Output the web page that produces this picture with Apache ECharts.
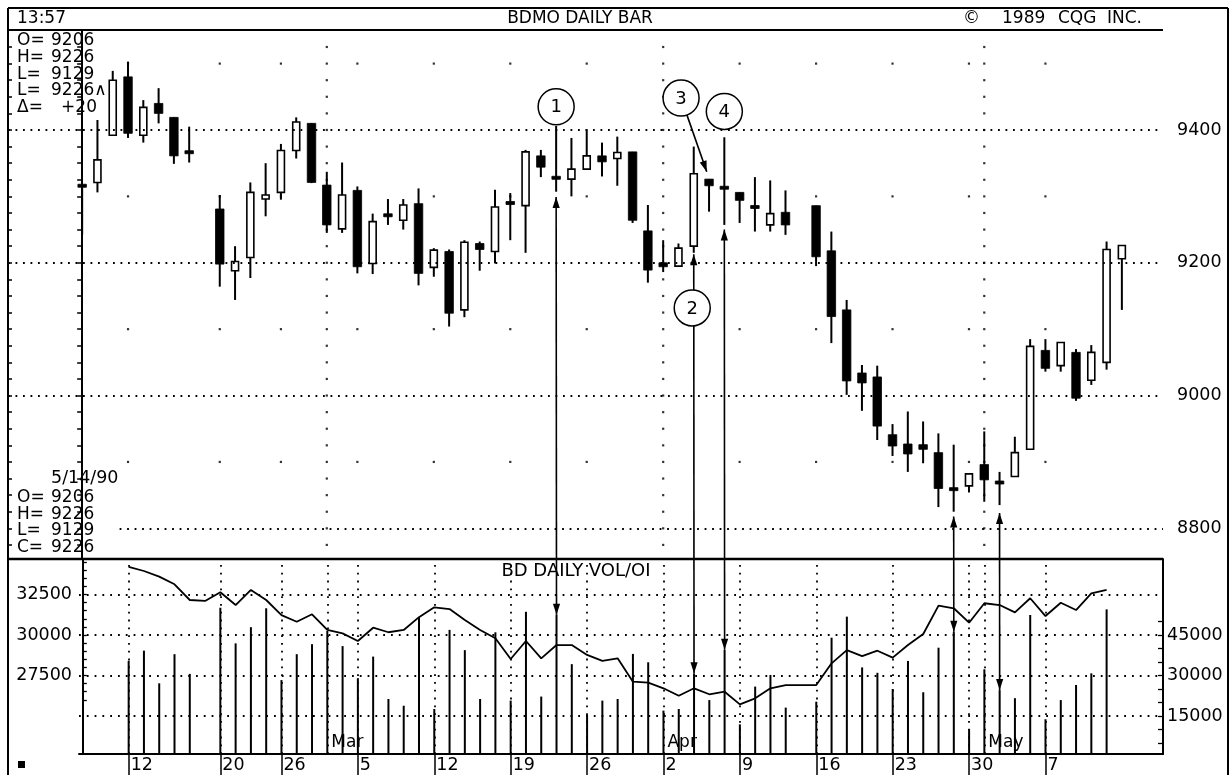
<!DOCTYPE html>
<html>
<head>
<meta charset="utf-8">
<title>BDMO Daily Bar</title>
<script src="https://cdn.jsdelivr.net/npm/echarts@6.0.0/dist/echarts.min.js"></script>
<style>
  html, body { margin: 0; padding: 0; background: #fff; }
  #chart { width: 1232px; height: 775px; }
</style>
</head>
<body>
<div id="chart"></div>
<script>
// BDMO daily bars (Feb - May 1990) with daily volume and open interest.
// One slot per weekday; holidays (2/19, 4/13) keep their slot but have no bar.
const dates = ['2/7','2/8','2/9','2/12','2/13','2/14','2/15','2/16','2/19','2/20','2/21','2/22','2/23',
  '2/26','2/27','2/28','3/1','3/2','3/5','3/6','3/7','3/8','3/9','3/12','3/13','3/14','3/15','3/16',
  '3/19','3/20','3/21','3/22','3/23','3/26','3/27','3/28','3/29','3/30','4/2','4/3','4/4','4/5','4/6',
  '4/9','4/10','4/11','4/12','4/13','4/16','4/17','4/18','4/19','4/20','4/23','4/24','4/25','4/26','4/27',
  '4/30','5/1','5/2','5/3','5/4','5/7','5/8','5/9','5/10','5/11','5/14'];

const opens = [9318,9321,9392,9480,9392,9440,9419,9367,null,9281,9188,9208,9296,
  9306,9369,9410,9317,9251,9309,9199,9272,9264,9289,9193,9217,9129,9229,9217,
  9291,9286,9361,9329,9326,9341,9361,9357,9367,9248,9200,9195,9225,9326,9314,
  9306,9285,9257,9276,null,9286,9218,9129,9034,9028,8941,8927,8926,8914,8860,
  8864,8896,8870,8878,8919,9068,9045,9065,9023,9050,9206];
const highs = [9318,9415,9489,9503,9445,9463,9419,9405,null,9302,9225,9321,9350,
  9379,9419,9410,9337,9351,9315,9274,9296,9296,9312,9222,9220,9234,9232,9310,
  9305,9370,9370,9406,9388,9401,9381,9390,9367,9287,9234,9229,9375,9326,9389,
  9306,9329,9324,9309,null,9286,9247,9144,9046,9045,8957,8976,8961,8943,8926,
  8882,8946,8885,8938,9085,9085,9080,9070,9076,9232,9226];
const lows = [9242,9306,9392,9388,9381,9410,9349,9351,null,9164,9144,9177,9270,
  9295,9357,9320,9245,9245,9184,9183,9257,9250,9166,9179,9104,9118,9188,9199,
  9234,9215,9329,9307,9300,9340,9330,9316,9260,9170,9186,9195,9215,9277,9257,
  9260,9247,9247,9242,null,9195,9079,9001,8977,8933,8909,8885,8898,8832,8825,
  8854,8840,8835,8878,8919,9036,9036,8992,9016,9039,9129];
const closes = [9314,9355,9475,9395,9434,9425,9361,9366,null,9198,9202,9306,9302,
  9369,9412,9321,9257,9302,9194,9262,9271,9287,9184,9219,9124,9231,9220,9284,
  9289,9367,9344,9327,9341,9361,9352,9366,9264,9189,9194,9222,9334,9316,9312,
  9294,9283,9274,9257,null,9209,9119,9022,9019,8954,8924,8912,8919,8860,8858,
  8882,8873,8868,8914,9074,9041,9080,8996,9065,9220,9226];

const volumes = [null,null,null,35400,39200,27100,37900,30600,null,55100,41900,47900,54900,
  28300,37900,41600,46500,40900,29000,37000,21300,18800,51500,17600,46900,39400,21300,46000,
  20700,53600,22200,52500,34200,15400,20700,21300,38000,34900,17000,17600,30800,20900,39500,
  11900,25900,30200,18100,null,20300,44000,51800,33000,31000,25000,35400,23800,40300,46200,
  10100,32300,24600,21600,52400,13800,20900,26500,30800,54500,null];
const openInterest = [null,null,null,34200,33950,33600,33130,32160,32100,32640,31850,32780,32160,
  31230,30820,31280,30310,30100,29630,30450,30170,30310,31100,31710,31600,30930,30310,29800,
  28520,29630,28560,29380,29380,28770,28400,28560,27120,27060,26710,26250,26710,26340,26500,
  25720,26090,26710,26910,26910,26910,28250,29070,28700,29030,28600,29380,30060,31810,31650,
  30760,31960,31850,31400,32270,31170,31990,31540,32570,32780,null];

// axis labels and calendar markers
const priceLabels = [8800, 9000, 9200, 9400];
const oiLabels = [27500, 30000, 32500];
const oiGridLevels = [25000, 27500, 30000, 32500];
const volumeLabels = [15000, 30000, 45000];
const weekStarts = ['2/12','2/20','2/26','3/5','3/12','3/19','3/26','4/2','4/9','4/16','4/23','4/30','5/7'];
const monthStarts = ['3/1','4/2','5/1'];
const monthNames = ['Mar','Apr','May'];

// quote box for the last session
const quoteDate = '5/14/90';
const quoteTime = '13:57';
const netChange = 20;

// numbered call-outs (slot position, price level) and the links from bars to volume
const callouts = [
  { n: '1', at: 31.0, price: 9435 },
  { n: '2', at: 39.9, price: 9132 },
  { n: '3', at: 39.17, price: 9448, pointAt: [40.85, 9337] },
  { n: '4', at: 42.0, price: 9428 }
];
const links = [
  { date: '3/22', tip: 9299 },
  { date: '4/4', tip: 9213 },
  { date: '4/6', tip: 9250 },
  { date: '4/27', tip: 8818 },
  { date: '5/2', tip: 8823 }
];

const FONT = 'DejaVu Sans';
const INK = '#000';
const idxOf = d => dates.indexOf(d);
const last = dates.length - 1;

// axis ranges (slot units horizontally)
const XMIN0 = -4.85, XMIN1 = -0.25, XMAX = 70.69;
const PMIN = 8753.8, PMAX = 9550.6;
const OIMIN = 22654, OIMAX = 34691;
const VMIN = 926, VMAX = 73148;

const candleData = [];
dates.forEach((d, i) => {
  if (opens[i] != null) candleData.push([i, opens[i], closes[i], lows[i], highs[i]]);
});
const volData = [];
volumes.forEach((v, i) => { if (v != null) volData.push([i, v]); });
const oiData = [];
openInterest.forEach((v, i) => { if (v != null) oiData.push([i, v]); });

const weekIdx = weekStarts.map(idxOf);
const monthIdx = monthStarts.map(idxOf);

const minorPrice = [];
for (let p = 8775; p <= 9525; p += 25) minorPrice.push(p);
const minorOI = [];
for (let v = 26000; v <= 34500; v += 500) minorOI.push(v);
const minorVol = [];
for (let v = 5000; v <= 50000; v += 5000) minorVol.push(v);

// dotted month lines and sparse weekly dots in the price panel
const gridDots = [];
monthIdx.forEach(i => minorPrice.forEach(p => gridDots.push([i, p])));
weekIdx.forEach(i => {
  if (!monthIdx.includes(i)) [8900, 9100, 9300, 9500].forEach(p => gridDots.push([i, p]));
});

const priceLines = priceLabels.map(p => [
  { coord: [p === 8800 ? 2.45 : XMIN0, p] },
  { coord: [XMAX, p] }
]);
const volVerticals = Array.from(new Set(weekIdx.concat(monthIdx))).sort((a, b) => a - b);

const chart = echarts.init(document.getElementById('chart'), null, { renderer: 'canvas', width: 1232, height: 775 });

const plain = v => String(Math.round(v));
const labelBase = { color: INK, fontFamily: FONT, fontSize: 17.5, formatter: plain };

const option = {
  animation: false,
  backgroundColor: '#fff',
  grid: [
    { left: 8, top: 30, width: 1155, height: 529, outerBoundsMode: 'none', containLabel: false },
    { left: 79, top: 559, width: 1084, height: 195, outerBoundsMode: 'none', containLabel: false }
  ],
  xAxis: [
    { gridIndex: 0, type: 'value', min: XMIN0, max: XMAX, show: false },
    {
      gridIndex: 1, type: 'value', min: XMIN1, max: XMAX,
      axisLine: { show: true, lineStyle: { color: INK, width: 2 } },
      axisTick: { show: true, inside: false, length: 21, customValues: weekIdx, lineStyle: { color: INK, width: 1.5 } },
      axisLabel: Object.assign({}, labelBase, {
        customValues: weekIdx, align: 'left', verticalAlign: 'middle', margin: 11, padding: [0, 0, 0, 2],
        formatter: v => dates[Math.round(v)].split('/')[1]
      }),
      splitLine: { show: false }
    }
  ],
  yAxis: [
    {
      gridIndex: 0, type: 'value', position: 'right', min: PMIN, max: PMAX,
      axisLine: { show: true, lineStyle: { color: INK, width: 2 } },
      axisTick: { show: true, inside: true, length: 5, customValues: minorPrice, lineStyle: { color: INK, width: 1.5 } },
      axisLabel: Object.assign({}, labelBase, { customValues: priceLabels, margin: 14 }),
      splitLine: { show: false }
    },
    {
      gridIndex: 0, type: 'value', position: 'left', min: PMIN, max: PMAX,
      axisLine: { show: true, lineStyle: { color: INK, width: 2 } },
      axisTick: { show: true, inside: true, length: 4, customValues: minorPrice, lineStyle: { color: INK, width: 1.5 } },
      axisLabel: { show: false },
      splitLine: { show: false }
    },
    {
      gridIndex: 1, type: 'value', position: 'left', min: OIMIN, max: OIMAX,
      axisLine: { show: true, lineStyle: { color: INK, width: 2 } },
      axisTick: { show: true, inside: true, length: 4, customValues: minorOI, lineStyle: { color: INK, width: 1.3 } },
      axisLabel: Object.assign({}, labelBase, { customValues: oiLabels, margin: 7 }),
      splitLine: { show: false }
    },
    {
      gridIndex: 1, type: 'value', position: 'right', min: VMIN, max: VMAX,
      axisLine: { show: true, lineStyle: { color: INK, width: 2 } },
      axisTick: { show: true, inside: true, length: 5, customValues: minorVol, lineStyle: { color: INK, width: 1.3 } },
      axisLabel: Object.assign({}, labelBase, { customValues: volumeLabels, margin: 4 }),
      splitLine: { show: false }
    }
  ],
  series: [
    {
      // price grid: dotted month lines, weekly dots, dotted price levels
      type: 'scatter', xAxisIndex: 0, yAxisIndex: 0, silent: true, z: 1,
      symbol: 'rect', symbolSize: 2.2, itemStyle: { color: INK },
      data: gridDots,
      markLine: {
        silent: true, symbol: 'none', label: { show: false }, animation: false,
        lineStyle: { color: INK, width: 1.8, type: [1.8, 5.7] },
        emphasis: { disabled: true },
        data: priceLines
      }
    },
    {
      name: 'BDMO', type: 'custom', xAxisIndex: 0, yAxisIndex: 0, z: 3,
      data: candleData,
      encode: { x: 0, y: [1, 2, 3, 4] },
      renderItem: function (params, api) {
        const i = api.value(0), o = api.value(1), c = api.value(2), l = api.value(3), h = api.value(4);
        const pO = api.coord([i, o]), pC = api.coord([i, c]);
        const pL = api.coord([i, l]), pH = api.coord([i, h]);
        const up = c > o;
        let top = Math.min(pO[1], pC[1]), bot = Math.max(pO[1], pC[1]);
        if (bot - top < 3) { const m = (top + bot) / 2; top = m - 1.5; bot = m + 1.5; }
        const bw = up ? 7 : 8.5;
        return {
          type: 'group',
          children: [
            { type: 'line', shape: { x1: pH[0], y1: pH[1], x2: pL[0], y2: pL[1] },
              style: { stroke: INK, lineWidth: 2 } },
            { type: 'rect', shape: { x: pO[0] - bw / 2, y: top, width: bw, height: bot - top },
              style: up ? { fill: '#fff', stroke: INK, lineWidth: 1.6 } : { fill: INK, stroke: INK, lineWidth: 0.8 } }
          ]
        };
      }
    },
    {
      name: 'Volume', type: 'custom', xAxisIndex: 1, yAxisIndex: 3, z: 3,
      data: volData,
      encode: { x: 0, y: 1 },
      renderItem: function (params, api) {
        const i = api.value(0), v = api.value(1);
        const t = api.coord([i, v]), b = api.coord([i, VMIN]);
        return { type: 'line', shape: { x1: t[0], y1: t[1], x2: b[0], y2: b[1] },
          style: { stroke: INK, lineWidth: 2 } };
      }
    },
    {
      name: 'Open interest', type: 'line', xAxisIndex: 1, yAxisIndex: 2, z: 4,
      data: oiData, showSymbol: false, symbol: 'none', silent: true,
      lineStyle: { color: INK, width: 1.8 },
      markLine: {
        silent: true, symbol: 'none', label: { show: false }, animation: false,
        lineStyle: { color: INK, width: 1.8, type: [1.8, 6] },
        emphasis: { disabled: true },
        data: oiGridLevels.map(v => ({ yAxis: v })).concat(volVerticals.map(i => ({ xAxis: i })))
      }
    }
  ]
};

chart.setOption(option);

// frames, text blocks and call-outs
const P = { xAxisIndex: 0, yAxisIndex: 0 };
const V = { xAxisIndex: 1, yAxisIndex: 3 };
const els = [];

function line(x1, y1, x2, y2, w) {
  return { type: 'line', z: 100, silent: true, shape: { x1, y1, x2, y2 }, style: { stroke: INK, lineWidth: w || 2 } };
}
function text(str, x, y, size, align) {
  return {
    type: 'text', z: 101, silent: true, x, y,
    style: {
      text: str, fill: INK, font: size + 'px "' + FONT + '"', fontSize: size, fontFamily: FONT,
      align: align || 'left', verticalAlign: 'middle',
      textAlign: align || 'left', textVerticalAlign: 'middle'
    }
  };
}
function arrowHead(tip, dir) {
  const L = 11, W = 3.6;
  const nx = -dir[1], ny = dir[0];
  const bx = tip[0] - dir[0] * L, by = tip[1] - dir[1] * L;
  return { type: 'polygon', z: 102, silent: true,
    shape: { points: [[tip[0], tip[1]], [bx + nx * W, by + ny * W], [bx - nx * W, by - ny * W]] },
    style: { fill: INK } };
}

// outer frame and panel separators
els.push(line(8, 8, 1228, 8, 2));
els.push(line(8, 8, 8, 775, 2));
els.push(line(1228, 8, 1228, 775, 2));
els.push(line(8, 30, 1163, 30, 2));
els.push(line(8, 559, 1163, 559, 2.5));
els.push({ type: 'rect', z: 100, silent: true, shape: { x: 18, y: 761, width: 7, height: 7 }, style: { fill: INK } });

// header
els.push(text(quoteTime, 17, 19, 17));
els.push(text('BDMO DAILY BAR', 580, 19, 17, 'center'));
els.push(text('\u00A9', 963, 19, 17));
els.push(text('1989', 1002, 19, 17));
els.push(text('CQG', 1058, 19, 17));
els.push(text('INC.', 1107, 19, 17));

// quote box, top left
const topRows = [
  ['O=', String(opens[last])],
  ['H=', String(highs[last])],
  ['L=', String(lows[last])],
  ['L=', closes[last] + '\u2227'],
  ['\u0394=', '+' + netChange]
];
topRows.forEach((r, k) => {
  const y = 40.5 + k * 16.8;
  els.push(text(r[0], 17, y, 17));
  if (k === 4) els.push(text(r[1], 97, y, 17, 'right'));
  else els.push(text(r[1], 51, y, 17));
});

// quote box, bottom left
els.push(text(quoteDate, 51, 478, 17.5));
const botRows = [['O=', opens[last]], ['H=', highs[last]], ['L=', lows[last]], ['C=', closes[last]]];
botRows.forEach((r, k) => {
  const y = 497.8 + k * 16.6;
  els.push(text(r[0], 17, y, 17));
  els.push(text(String(r[1]), 51, y, 17));
});

// volume panel title and month names
els.push(text('BD DAILY VOL/OI', 576, 571, 18, 'center'));
monthIdx.forEach((i, k) => {
  const p = chart.convertToPixel(V, [i, VMIN]);
  els.push(text(monthNames[k], p[0] + 4, 743, 17));
});

// links from bar lows down to the volume bars
links.forEach(k => {
  const i = idxOf(k.date);
  const a = chart.convertToPixel(P, [i, k.tip]);
  const b = chart.convertToPixel(V, [i, volumes[i]]);
  els.push(line(a[0], a[1], b[0], b[1], 1.6));
  els.push(arrowHead(a, [0, -1]));
  els.push(arrowHead(b, [0, 1]));
});

// numbered circles
callouts.forEach(c => {
  const p = chart.convertToPixel(P, [c.at, c.price]);
  els.push({ type: 'circle', z: 103, silent: true, shape: { cx: p[0], cy: p[1], r: 18 },
    style: { fill: '#fff', stroke: INK, lineWidth: 1.5 } });
  els.push(Object.assign(text(c.n, p[0], p[1] + 1, 18, 'center'), { z: 104 }));
  if (c.pointAt) {
    const t = chart.convertToPixel(P, c.pointAt);
    const dx = t[0] - p[0], dy = t[1] - p[1];
    const len = Math.sqrt(dx * dx + dy * dy);
    const d = [dx / len, dy / len];
    els.push(line(p[0] + d[0] * 18, p[1] + d[1] * 18, t[0], t[1], 1.6));
    els.push(arrowHead(t, d));
  }
});

chart.setOption({ graphic: { elements: els } });
</script>
</body>
</html>
